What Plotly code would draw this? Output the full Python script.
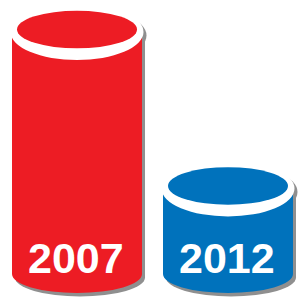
import plotly.graph_objects as go

# ---- data ----
years = ["2007", "2012"]
values = [100, 36]
colors = ["#ED1C24", "#0072BC"]
positions = [0, 1]

# ---- geometry / style ----
W = H = 298
x_range = [-0.51, 1.4636]
y_range = [-9.82, 112.07]
ux = (x_range[1] - x_range[0]) / W   # x units per pixel
uy = (y_range[1] - y_range[0]) / H   # y units per pixel

BODY_HW = 65 * ux
BOT_RX, BOT_RY = 65 * ux, 19 * uy
IN_RX, IN_RY = 60 * ux, 18.8 * uy
WH_RX, WH_RY, WH_DY = 66.5 * ux, 28 * uy, -2.5 * uy
SH_DX, SH_DY = 3 * ux, -3.5 * uy
SHADOW = "#8f8f8f"
LABEL_Y = 16 * uy

fig = go.Figure()

shapes = []


def ell(cx, cy, rx, ry, color, layer):
    return dict(type="circle", xref="x", yref="y", x0=cx - rx, x1=cx + rx,
                y0=cy - ry, y1=cy + ry, fillcolor=color, line=dict(width=0),
                layer=layer)


for x, v, c in zip(positions, values, colors):
    # shadow
    shapes.append(dict(type="rect", xref="x", yref="y",
                       x0=x - BODY_HW + SH_DX, x1=x + BODY_HW + SH_DX,
                       y0=0 + SH_DY, y1=v + WH_DY + SH_DY,
                       fillcolor=SHADOW, line=dict(width=0), layer="below"))
    shapes.append(ell(x + SH_DX, 0 + SH_DY, BOT_RX, BOT_RY, SHADOW, "below"))
    shapes.append(ell(x + SH_DX, v + WH_DY + SH_DY, WH_RX, WH_RY, SHADOW, "below"))
    # bottom of cylinder
    shapes.append(ell(x, 0, BOT_RX, BOT_RY, c, "below"))
    # top rim and surface
    shapes.append(ell(x, v + WH_DY, WH_RX, WH_RY, "white", "above"))
    shapes.append(ell(x, v, IN_RX, IN_RY, c, "above"))

fig.add_trace(go.Bar(x=positions, y=values, width=[2 * BODY_HW] * len(values),
                     marker=dict(color=colors, line=dict(width=0)),
                     hoverinfo="skip", showlegend=False))

annotations = []
for x, yr in zip(positions, years):
    annotations.append(dict(x=x, y=LABEL_Y, xref="x", yref="y", text="<b>%s</b>" % yr,
                            showarrow=False, xshift=-1.5,
                            font=dict(family="Liberation Sans, Arial, sans-serif",
                                      size=43, color="white"),
                            xanchor="center", yanchor="middle"))

fig.update_layout(
    width=W, height=H, margin=dict(l=0, r=0, t=0, b=0),
    paper_bgcolor="white", plot_bgcolor="white",
    xaxis=dict(range=x_range, visible=False, fixedrange=True),
    yaxis=dict(range=y_range, visible=False, fixedrange=True),
    shapes=shapes, annotations=annotations, bargap=0,
)

fig.write_html("out.html", config={"displayModeBar": False},
               post_script="document.body.style.margin='0';document.body.style.overflow='hidden';")
